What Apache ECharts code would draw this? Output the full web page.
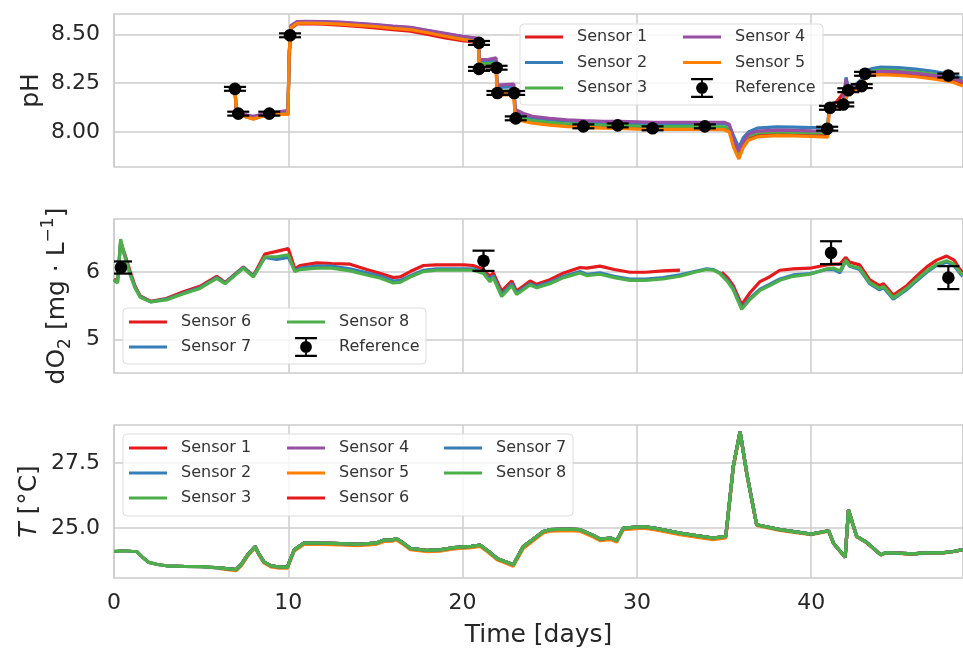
<!DOCTYPE html>
<html><head><meta charset="utf-8">
<script src="https://cdn.jsdelivr.net/npm/echarts/dist/echarts.min.js"></script>
<style>html,body{margin:0;padding:0;background:#fff}#c{width:963px;height:649px}</style>
</head><body><div id="c"></div>
<script>
// ---------- pH panel ----------
const pHDays = [6.94, 7.02, 7.5, 8.0, 8.4, 8.9, 9.5, 9.98,
  10.05, 10.15, 10.5, 11, 12, 13, 14, 15, 16, 17, 18, 19, 20,
  20.9, 20.96, 21.5, 21.92, 21.98, 22.5, 22.94, 23.02, 23.5, 24,
  25, 26, 27, 28, 29, 30, 31, 32, 33, 34, 35,
  35.3, 35.55, 35.85, 36.1, 36.4, 36.9,
  38, 39, 40, 40.95,
  41.02, 41.5, 41.85, 42.0, 42.15, 42.5, 42.9, 43.1, 43.5, 44,
  45, 46, 47, 48, 48.7];
const pHSensor1 = [8.22, 8.10, 8.08, 8.068, 8.078, 8.088, 8.09, 8.09,
  8.40, 8.53, 8.553, 8.555, 8.552, 8.547, 8.54, 8.533, 8.524, 8.516, 8.5, 8.482, 8.468,
  8.458, 8.34, 8.34, 8.342, 8.20, 8.20, 8.2, 8.075, 8.062, 8.05,
  8.04, 8.034, 8.03, 8.027, 8.025, 8.022, 8.02, 8.02, 8.021, 8.02, 8.019,
  8.01, 7.94, 7.88, 7.935, 7.97, 7.985,
  7.99, 7.988, 7.986, 7.985,
  8.115, 8.16, 8.2, 8.19, 8.21, 8.222, 8.24, 8.29, 8.30, 8.305,
  8.302, 8.295, 8.284, 8.27, 8.248];
const pHSensor2 = [8.22, 8.10, 8.085, 8.075, 8.085, 8.095, 8.10, 8.10,
  8.40, 8.54, 8.563, 8.565, 8.563, 8.56, 8.554, 8.548, 8.54, 8.534, 8.518, 8.502, 8.488,
  8.477, 8.36, 8.36, 8.365, 8.23, 8.23, 8.232, 8.10, 8.085, 8.072,
  8.062, 8.055, 8.05, 8.048, 8.046, 8.044, 8.042, 8.042, 8.043, 8.043, 8.042,
  8.035, 7.98, 7.92, 7.97, 8.0, 8.02,
  8.026, 8.025, 8.023, 8.022,
  8.12, 8.13, 8.15, 8.28, 8.22, 8.24, 8.27, 8.31, 8.325, 8.332,
  8.33, 8.322, 8.31, 8.295, 8.275];
const pHSensor3 = [8.22, 8.10, 8.082, 8.07, 8.08, 8.09, 8.095, 8.095,
  8.40, 8.538, 8.56, 8.562, 8.56, 8.556, 8.55, 8.544, 8.535, 8.528, 8.512, 8.495, 8.48,
  8.47, 8.35, 8.35, 8.352, 8.21, 8.21, 8.212, 8.085, 8.07, 8.058,
  8.048, 8.042, 8.038, 8.035, 8.033, 8.03, 8.028, 8.028, 8.029, 8.028, 8.027,
  8.018, 7.95, 7.89, 7.945, 7.98, 7.995,
  8.0, 7.998, 7.996, 7.995,
  8.12, 8.128, 8.145, 8.18, 8.21, 8.225, 8.25, 8.295, 8.31, 8.318,
  8.315, 8.308, 8.296, 8.282, 8.26];
const pHSensor4 = [8.22, 8.10, 8.09, 8.08, 8.09, 8.10, 8.105, 8.11,
  8.35, 8.545, 8.565, 8.566, 8.565, 8.562, 8.556, 8.55, 8.542, 8.536, 8.52, 8.505, 8.49,
  8.48, 8.37, 8.372, 8.38, 8.24, 8.243, 8.245, 8.115, 8.095, 8.08,
  8.07, 8.062, 8.058, 8.055, 8.054, 8.052, 8.05, 8.05, 8.05, 8.05, 8.05,
  8.04, 7.96, 7.90, 7.95, 7.99, 8.005,
  8.01, 8.008, 8.006, 8.005,
  8.12, 8.13, 8.15, 8.27, 8.21, 8.23, 8.26, 8.30, 8.305, 8.31,
  8.308, 8.30, 8.29, 8.278, 8.258];
const pHSensor5 = [8.22, 8.10, 8.08, 8.066, 8.078, 8.088, 8.09, 8.09,
  8.40, 8.535, 8.556, 8.558, 8.556, 8.552, 8.546, 8.54, 8.53, 8.524, 8.508, 8.49, 8.474,
  8.462, 8.335, 8.335, 8.338, 8.19, 8.19, 8.192, 8.07, 8.055, 8.045,
  8.035, 8.028, 8.024, 8.02, 8.018, 8.015, 8.013, 8.014, 8.014, 8.013, 8.012,
  8.0, 7.92, 7.862, 7.92, 7.958, 7.975,
  7.982, 7.98, 7.977, 7.974,
  8.115, 8.125, 8.14, 8.17, 8.205, 8.215, 8.232, 8.28, 8.29, 8.294,
  8.29, 8.283, 8.272, 8.258, 8.236];
const pHRefDays = [6.94, 7.13, 8.91, 10.1, 20.94, 20.94, 21.95, 22.0, 22.96, 23.05, 26.93, 28.9, 30.9, 33.9, 40.92, 41.08, 41.84, 42.13, 42.9, 43.09, 47.87];
const pHRefVals = [8.221, 8.094, 8.094, 8.495, 8.456, 8.323, 8.329, 8.20, 8.20, 8.07, 8.029, 8.034, 8.019, 8.029, 8.017, 8.124, 8.141, 8.214, 8.235, 8.298, 8.289];
const pHRefErr = [0.01, 0.01, 0.01, 0.01, 0.01, 0.01, 0.01, 0.01, 0.01, 0.01, 0.01, 0.01, 0.01, 0.01, 0.01, 0.01, 0.01, 0.01, 0.01, 0.01, 0.01];

// ---------- dissolved oxygen panel ----------
const dO2Days = [0.0, 0.2, 0.38, 0.63, 0.92, 1.2, 1.5, 2.1, 3.0, 3.98,
  4.93, 5.89, 6.37, 7.42, 8.0, 8.66, 9.33, 10.0, 10.38, 10.67,
  11.63, 12.5, 13.54, 14.5, 15.3, 16.02, 16.41, 17.0, 17.75, 18.5,
  19.28, 20.1, 20.61, 21.19, 21.57, 21.76, 22.24, 22.82, 23.1, 23.87,
  24.25, 25.0, 25.8, 26.74, 27.12, 27.88, 28.7, 29.6, 30.5, 31.5,
  32.47, 32.6, 33.3, 34.0, 34.4, 34.77, 34.87, 35.2, 35.53, 36.01,
  36.5, 37.06, 37.6, 38.2, 38.97, 39.93, 40.89, 41.3, 41.65, 41.99,
  42.2, 42.78, 43.35, 43.92, 44.15, 44.71, 45.48, 46.0, 46.63, 47.2,
  47.77, 48.2, 48.54, 48.7];
const dO2Sensor6 = [5.9, 5.86, 6.45, 6.26, 6.02, 5.8, 5.65, 5.57, 5.61, 5.71,
  5.79, 5.94, 5.85, 6.08, 5.95, 6.27, 6.31, 6.35, 6.05, 6.1,
  6.14, 6.13, 6.12, 6.04, 5.98, 5.92, 5.93, 6.01, 6.10, 6.11,
  6.11, 6.11, 6.10, 6.04, 5.94, 5.99, 5.72, 5.87, 5.72, 5.87,
  5.82, 5.89, 5.99, 6.07, 6.06, 6.09, 6.04, 6.0, 6.0, 6.02,
  6.03, null, null, null, null, null, 6.0, 5.92, 5.80, 5.52,
  5.70, 5.86, 5.93, 6.03, 6.05, 6.06, 6.11, 6.12, 6.12, 6.22,
  6.15, 6.11, 5.89, 5.80, 5.83, 5.66, 5.80, 5.93, 6.08, 6.18,
  6.24, 6.18, 6.04, 6.0];
const dO2Sensor7 = [5.88, 5.85, 6.45, 6.23, 5.98, 5.78, 5.64, 5.56, 5.60, 5.69,
  5.77, 5.92, 5.84, 6.07, 5.94, 6.22, 6.19, 6.22, 6.02, 6.06,
  6.09, 6.09, 6.05, 5.99, 5.94, 5.87, 5.88, 5.95, 6.03, 6.05,
  6.05, 6.05, 6.05, 6.0, 5.89, 5.95, 5.67, 5.83, 5.69, 5.83,
  5.79, 5.85, 5.94, 6.01, 5.97, 5.99, 5.94, 5.9, 5.9, 5.92,
  5.96, 5.97, 6.01, 6.05, 6.04, 5.99, 5.96, 5.88, 5.76, 5.47,
  5.62, 5.75, 5.82, 5.9, 5.96, 5.98, 6.04, 6.04, 5.99, 6.17,
  6.09, 6.04, 5.83, 5.74, 5.77, 5.6, 5.74, 5.86, 6.0, 6.1,
  6.15, 6.1, 5.98, 5.94];
const dO2Sensor8 = [5.88, 5.84, 6.49, 6.22, 5.97, 5.77, 5.63, 5.56, 5.59, 5.68,
  5.76, 5.91, 5.83, 6.06, 5.93, 6.23, 6.23, 6.26, 6.01, 6.04,
  6.06, 6.06, 6.02, 5.96, 5.91, 5.84, 5.85, 5.93, 6.01, 6.03,
  6.03, 6.03, 6.03, 5.98, 5.86, 5.92, 5.64, 5.80, 5.67, 5.81,
  5.77, 5.83, 5.92, 5.99, 5.95, 5.97, 5.92, 5.88, 5.88, 5.90,
  5.94, 5.95, 6.0, 6.04, 6.03, 5.98, 5.95, 5.86, 5.74, 5.45,
  5.60, 5.73, 5.80, 5.88, 5.94, 5.97, 6.05, 6.06, 6.02, 6.18,
  6.10, 6.06, 5.85, 5.76, 5.79, 5.62, 5.76, 5.88, 6.02, 6.12,
  6.17, 6.12, 6.0, 5.96];
const dO2RefDays = [0.4, 21.2, 41.14, 47.87];
const dO2RefVals = [6.07, 6.17, 6.29, 5.92];
const dO2RefErr = [0.09, 0.15, 0.17, 0.17];

// ---------- temperature panel ----------
const tempDO = [[0.0,24.10],[0.5,24.13],[1.0,24.11],[1.3,24.10],[1.6,23.9],[2.0,23.68],[2.5,23.6],[3.0,23.55],[4.0,23.53],[5.0,23.52],
  [6.0,23.47],[7.0,23.4],[7.3,23.6],[7.7,24.0],[8.1,24.29],[8.3,24.02],[8.6,23.7],[9.0,23.55],[9.5,23.5],[9.95,23.5],
  [10.15,23.85],[10.35,24.17],[10.9,24.42],[12.0,24.42],[13.0,24.4],[14.0,24.38],[15.0,24.42],[15.5,24.54],[16.0,24.55],[16.2,24.6],
  [16.6,24.42],[17.0,24.22],[18.0,24.14],[18.7,24.16],[19.5,24.25],[20.5,24.3],[21.0,24.35],[21.5,24.1],[22.0,23.82],[22.5,23.7],
  [22.91,23.59],[23.48,24.29],[23.87,24.48],[24.63,24.87],[25.0,24.94],[26.0,24.96],[26.74,24.94],[27.4,24.75],[27.88,24.58],[28.5,24.62],
  [28.84,24.52],[29.22,25.0],[30.37,25.06],[31.0,25.0],[32.47,24.81],[33.5,24.7],[34.38,24.62],[35.1,24.68],[35.53,27.37],[35.92,28.72],
  [36.3,27.12],[36.87,25.13],[38.2,24.94],[40.0,24.77],[41.0,24.9],[41.09,24.94],[41.28,24.42],[41.95,23.88],[42.14,25.70],[42.61,24.68],
  [43.18,24.45],[44.0,23.97],[44.3,24.06],[45.86,24.01],[46.5,24.05],[47.5,24.05],[48.16,24.10],[48.7,24.17]];
const tempS5 = [[6.08,23.44],[7.0,23.36],[7.3,23.55],[7.7,23.95],[8.1,24.25],[8.3,23.98],[8.6,23.66],[9.0,23.51],[9.5,23.46],[9.95,23.46],
  [10.15,23.8],[10.35,24.12],[10.9,24.37],[12,24.37],[13,24.35],[14,24.33],[15,24.37],[15.5,24.49],[16,24.5],[16.2,24.55],
  [16.6,24.37],[17,24.17],[18,24.09],[18.7,24.11],[19.5,24.2],[20.5,24.25],[21,24.3],[21.5,24.05],[22,23.77],[22.5,23.65],
  [22.91,23.53],[23.48,24.22],[23.87,24.42],[24.63,24.81],[25,24.88],[26,24.9],[26.74,24.88],[27.4,24.69],[27.88,24.52],[28.5,24.56],
  [28.84,24.46],[29.22,24.94],[30.37,25.0],[31,24.94],[32.47,24.75],[33.5,24.64],[34.38,24.56],[35.1,24.62],[35.53,27.3],[35.92,28.68],
  [36.3,27.08],[36.87,25.1],[38.2,24.91],[40,24.75],[41,24.88],[41.09,24.92],[41.28,24.4],[41.95,23.87],[42.14,25.68],[42.61,24.66],
  [43.18,24.44],[44,23.96],[44.3,24.05],[45.86,24.0],[46.5,24.04],[47.5,24.04],[48.16,24.09],[48.7,24.16]];
const tempPH = tempDO.filter(p => p[0] >= 6.0);

// ---------- ticks ----------
const xTicks = [0, 10, 20, 30, 40];
const pHTicks = [8.0, 8.25, 8.5];
const dO2Ticks = [5, 6];
const tempTicks = [25.0, 27.5];

// ---------- styling ----------
const FONT = 'DejaVu Sans';
const C = {red:'#e41a1c', blue:'#377eb8', green:'#4daf4a', purple:'#984ea3', orange:'#ff7f00'};
const GRID_COLOR = '#cccccc';
const XMAX = 48.71;

const grids = [
  {left:114, top:14, width:849, height:153},
  {left:114, top:219, width:849, height:154},
  {left:114, top:425, width:849, height:153}
].map(g => Object.assign(g, {show:true, borderColor:GRID_COLOR, borderWidth:1.5, backgroundColor:'#fff', containLabel:false, outerBoundsMode:'none'}));

function xAxis(i, showLabels) {
  return {
    type:'value', gridIndex:i, min:0, max:XMAX, interval:10,
    axisLine:{show:false}, axisTick:{show:false},
    splitLine:{show:true, lineStyle:{color:GRID_COLOR, width:1.5}},
    axisLabel:{show:showLabels, fontFamily:FONT, fontSize:22, color:'#262626', margin:14,
      formatter: v => xTicks.includes(v) ? String(v) : ''},
    name: showLabels ? 'Time [days]' : '', nameLocation:'middle', nameGap:45,
    nameTextStyle:{fontFamily:FONT, fontSize:25, color:'#262626'}
  };
}
function yAxis(i, min, max, ticks, fmt, name, gap, rich) {
  return {
    type:'value', gridIndex:i, min, max,
    axisLine:{show:false},
    axisTick:{show:false, customValues:ticks},
    splitLine:{show:true, lineStyle:{color:GRID_COLOR, width:1.5}},
    axisLabel:{customValues:ticks, fontFamily:FONT, fontSize:22, color:'#262626', margin:14, formatter:fmt},
    name, nameLocation:'middle', nameRotate:90, nameGap:gap, nameMoveOverlap:false,
    nameTextStyle:{fontFamily:FONT, fontSize:25, color:'#262626', rich:rich||{}}
  };
}

function line(name, color, data, idx, z) {
  return {type:'line', name, xAxisIndex:idx, yAxisIndex:idx, data,
    showSymbol:false, symbol:'none', connectNulls:false, clip:true, animation:false,
    lineStyle:{color, width:3.2}, itemStyle:{color}, z:z||2};
}
const zip = (xs, ys) => xs.map((x, i) => [x, ys[i]]);

function errSeries(idx, days, vals, errs) {
  return {
    type:'custom', name:'Reference', xAxisIndex:idx, yAxisIndex:idx, clip:true, animation:false, z:5,
    itemStyle:{color:'#000'},
    data: days.map((d, i) => [d, vals[i], errs[i]]),
    encode:{x:0, y:1},
    renderItem(params, api) {
      const c = api.coord([api.value(0), api.value(1)]);
      const top = api.coord([api.value(0), api.value(1) + api.value(2)]);
      const bot = api.coord([api.value(0), api.value(1) - api.value(2)]);
      const w = 11;
      const st = {stroke:'#000', lineWidth:2.2};
      return {type:'group', children:[
        {type:'line', shape:{x1:c[0], y1:top[1], x2:c[0], y2:bot[1]}, style:st},
        {type:'line', shape:{x1:c[0]-w, y1:top[1], x2:c[0]+w, y2:top[1]}, style:st},
        {type:'line', shape:{x1:c[0]-w, y1:bot[1], x2:c[0]+w, y2:bot[1]}, style:st},
        {type:'circle', shape:{cx:c[0], cy:c[1], r:6.3}, style:{fill:'#000'}}
      ]};
    }
  };
}

const REF_ICON = 'path://M0,0 L24,0 L24,2.4 L0,2.4 Z M0,19.6 L24,19.6 L24,22 L0,22 Z M11,0 L13,0 L13,22 L11,22 Z M18.5,11 A6.5,6.5 0 1 1 5.5,11 A6.5,6.5 0 1 1 18.5,11 Z';
const LINE_ICON = 'path://M0,0 L38,0 L38,3 L0,3 Z';

function legend(left, top, names, gap) {
  return {
    orient:'vertical', left, top, padding:0, itemWidth:38, itemHeight:20, itemGap:gap,
    selectedMode:false, z:6,
    data: names.map(n => n === 'Reference'
      ? {name:n, icon:REF_ICON, symbolKeepAspect:true, itemStyle:{color:'#000'}}
      : {name:n, icon:LINE_ICON, symbolKeepAspect:true}),
    textStyle:{fontFamily:FONT, fontSize:16, color:'#333', lineHeight:20, padding:[0,0,0,9]}
  };
}

const frame = (x, y, w, h) => ({type:'rect', z:3, shape:{x, y, width:w, height:h, r:4},
  style:{fill:'rgba(255,255,255,0.8)', stroke:'#dddddd', lineWidth:1}});

const option = {
  backgroundColor:'#ffffff',
  animation:false,
  grid: grids,
  xAxis: [xAxis(0,false), xAxis(1,false), xAxis(2,true)],
  yAxis: [
    yAxis(0, 7.821, 8.604, pHTicks, v => v.toFixed(2), 'pH', 70),
    yAxis(1, 4.505, 6.79, dO2Ticks, v => String(Math.round(v)), 'dO{sub|2} [mg · L{sup|−1}]', 40,
      {sub:{fontFamily:FONT, fontSize:17, verticalAlign:'bottom', lineHeight:22, color:'#262626'},
       sup:{fontFamily:FONT, fontSize:17, verticalAlign:'top', lineHeight:34, color:'#262626'}}),
    yAxis(2, 23.08, 28.97, tempTicks, v => v.toFixed(1), '{i|T} [°C]', 72,
      {i:{fontFamily:FONT, fontSize:25, fontStyle:'italic', color:'#262626'}})
  ],
  legend: [
    legend(525, 27, ['Sensor 1','Sensor 2','Sensor 3'], 5.5),
    legend(683, 27, ['Sensor 4','Sensor 5','Reference'], 5.5),
    legend(129, 312, ['Sensor 6','Sensor 7'], 5),
    legend(287, 312, ['Sensor 8','Reference'], 5),
    legend(129, 438, ['Sensor 1','Sensor 2','Sensor 3'], 5),
    legend(287, 438, ['Sensor 4','Sensor 5','Sensor 6'], 5),
    legend(444, 438, ['Sensor 7','Sensor 8'], 5)
  ],
  graphic: [frame(520, 24, 303, 81), frame(123, 308, 303, 56), frame(123, 434, 450, 82)],
  series: [
    line('Sensor 1', C.red, zip(pHDays, pHSensor1), 0),
    line('Sensor 2', C.blue, zip(pHDays, pHSensor2), 0),
    line('Sensor 3', C.green, zip(pHDays, pHSensor3), 0),
    line('Sensor 4', C.purple, zip(pHDays, pHSensor4), 0),
    line('Sensor 5', C.orange, zip(pHDays, pHSensor5), 0),
    errSeries(0, pHRefDays, pHRefVals, pHRefErr),
    line('Sensor 6', C.red, zip(dO2Days, dO2Sensor6), 1),
    line('Sensor 7', C.blue, zip(dO2Days, dO2Sensor7), 1),
    line('Sensor 8', C.green, zip(dO2Days, dO2Sensor8), 1),
    errSeries(1, dO2RefDays, dO2RefVals, dO2RefErr),
    line('Sensor 1', C.red, tempPH, 2),
    line('Sensor 2', C.blue, tempPH, 2),
    line('Sensor 3', C.green, tempPH, 2),
    line('Sensor 4', C.purple, tempPH, 2),
    line('Sensor 5', C.orange, tempS5, 2),
    line('Sensor 6', C.red, tempDO, 2),
    line('Sensor 7', C.blue, tempDO, 2),
    line('Sensor 8', C.green, tempDO, 2)
  ]
};
const chart = echarts.init(document.getElementById('c'), null, {renderer:'canvas', width:963, height:649});
chart.setOption(option);
</script></body></html>
